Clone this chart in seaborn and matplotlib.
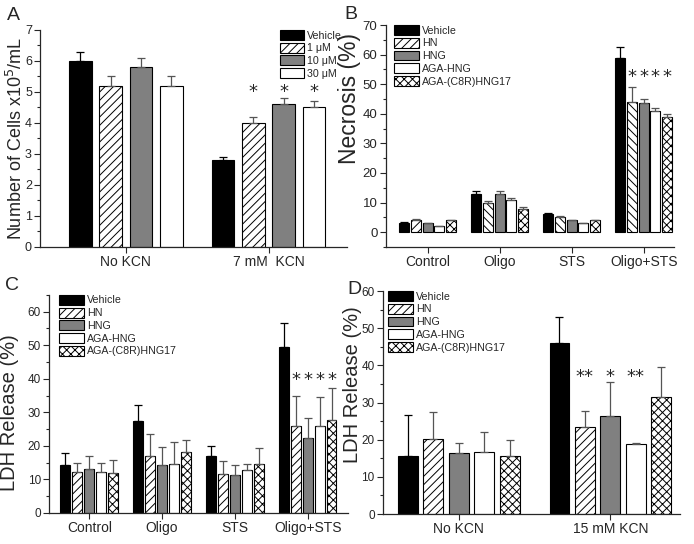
import matplotlib
matplotlib.use("Agg")
import matplotlib.pyplot as plt
from matplotlib.patches import Patch
from matplotlib.container import BarContainer
from matplotlib.ticker import MultipleLocator
import seaborn as sns
import pandas as pd

# panel A
a_groups = ["No KCN", "7 mM  KCN"]
a_series = ["Vehicle", "1 \u03bcM", "10 \u03bcM", "30 \u03bcM"]
a_vals = [[6.0, 2.8], [5.2, 4.0], [5.8, 4.6], [5.2, 4.5]]
a_errs = [[0.3, 0.1], [0.3, 0.2], [0.3, 0.2], [0.3, 0.2]]
a_stars = [["", ""], ["", "*"], ["", "*"], ["", "*"]]

# panels B, C, D share treatments
treat = ["Vehicle", "HN", "HNG", "AGA-HNG", "AGA-(C8R)HNG17"]
bcd_groups = ["Control", "Oligo", "STS", "Oligo+STS"]

b_vals = [[3, 13, 6, 59], [4, 10, 5, 44], [3, 13, 4, 43.5], [2, 11, 3, 41], [4, 8, 4, 39]]
b_errs = [[0.3, 0.8, 0.4, 3.5], [0.3, 0.6, 0.3, 5], [0.2, 0.8, 0.2, 1.5], [0.1, 0.7, 0.1, 1], [0.2, 0.5, 0.2, 1]]
b_stars = [["", "", "", ""], ["", "", "", "*"], ["", "", "", "*"], ["", "", "", "*"], ["", "", "", "*"]]

c_vals = [[14.2, 27.4, 17.0, 49.4], [12.3, 17.0, 11.7, 26.0], [13.0, 14.3, 11.2, 22.4],
          [12.2, 14.6, 12.8, 26.0], [12.0, 18.2, 14.5, 27.6]]
c_errs = [[3.7, 4.8, 3.1, 7.3], [2.7, 6.6, 3.8, 9.0], [4.0, 5.4, 3.0, 6.0],
          [2.7, 6.5, 1.9, 8.5], [3.7, 3.5, 4.9, 9.7]]
c_stars = b_stars

d_groups = ["No KCN", "15 mM KCN"]
d_vals = [[15.6, 45.9], [20.1, 23.3], [16.3, 26.4], [16.8, 18.9], [15.5, 31.6]]
d_errs = [[11.0, 7.1], [7.3, 4.3], [2.8, 9.0], [5.3, 0.2], [4.3, 7.9]]
d_stars = [["", ""], ["", "**"], ["", "*"], ["", "**"], ["", ""]]

colors = ["black", "white", "#808080", "white", "white"]
hatches = [None, "////", None, None, "xxxx"]

sns.set_style("ticks")
plt.rcParams["font.family"] = ["Liberation Sans", "DejaVu Sans"]
plt.rcParams["hatch.linewidth"] = 0.7
plt.rcParams["xtick.major.size"] = 4
plt.rcParams["ytick.major.size"] = 4
plt.rcParams["ytick.minor.size"] = 2


def panel(ax, groups, series, vals, errs, stars, width, gap, ylim, major, minor,
          ylabel, ylabel_size, ylabel_pos, ytick_size, star_y, legend_anchor,
          hatch_override=None):
    rows = []
    for s, v_list in zip(series, vals):
        for g, v in zip(groups, v_list):
            rows.append({"group": g, "series": s, "value": v})
    df = pd.DataFrame(rows)
    pal = dict(zip(series, colors))
    sns.barplot(data=df, x="group", y="value", hue="series", palette=pal,
                width=width, gap=gap, edgecolor="black", linewidth=0.8,
                errorbar=None, legend=False, ax=ax)
    bars = [c for c in ax.containers if isinstance(c, BarContainer)]
    for i, cont in enumerate(bars):
        for j, bar in enumerate(cont.patches):
            h = hatches[i]
            if hatch_override is not None and (i, j) in hatch_override:
                h = hatch_override[(i, j)]
            bar.set_hatch(h)
            bar.set_facecolor(colors[i])
            x = bar.get_x() + bar.get_width() / 2
            top = bar.get_height()
            ax.errorbar(x, top, yerr=[[0], [errs[i][j]]], fmt="none",
                        ecolor="black" if i == 0 else "#555555",
                        elinewidth=0.9, capsize=3.2, capthick=0.9)
            if stars[i][j]:
                ax.text(x, star_y, stars[i][j], ha="center", va="center",
                        fontsize=13, family="DejaVu Sans")
    ax.set_ylim(*ylim)
    ax.yaxis.set_major_locator(MultipleLocator(major))
    ax.yaxis.set_minor_locator(MultipleLocator(minor))
    ax.set_xlabel("")
    ax.set_ylabel(ylabel, fontsize=ylabel_size)
    ax.yaxis.set_label_coords(*ylabel_pos)
    ax.tick_params(axis="both", width=0.8, pad=2)
    ax.tick_params(axis="y", labelsize=ytick_size)
    ax.tick_params(axis="x", labelsize=10)
    ax.tick_params(axis="y", which="minor", width=0.8)
    for sp in ["left", "bottom"]:
        ax.spines[sp].set_linewidth(0.9)
    sns.despine(ax=ax)
    handles = [Patch(facecolor=colors[i], edgecolor="black", hatch=hatches[i],
                     linewidth=0.8, label=s) for i, s in enumerate(series)]
    ax.legend(handles=handles, loc="upper left", bbox_to_anchor=legend_anchor,
              frameon=False, fontsize=7.7, handlelength=2.3, handleheight=1.05,
              labelspacing=0.2, handletextpad=0.3, borderaxespad=0, borderpad=0)


fig = plt.figure(figsize=(6.94, 5.44), dpi=100)
axA = fig.add_axes([0.058, 0.546, 0.442, 0.399])
axB = fig.add_axes([0.556, 0.546, 0.415, 0.408])
axC = fig.add_axes([0.071, 0.057, 0.43, 0.401])
axD = fig.add_axes([0.552, 0.055, 0.428, 0.41])

panel(axA, a_groups, a_series, a_vals, a_errs, a_stars, 0.85, 0.25, (0, 7), 1, 0.5,
      "Number of Cells x10$^5$/mL", 13, (-0.046, 0.5), 9, 5.0, (0.78, 1.0))
axA.set_xlim(-0.6, 1.55)

b_hatch = {(1, 1): "\\\\\\\\", (1, 2): "\\\\\\\\", (1, 3): "\\\\\\\\"}
panel(axB, bcd_groups, treat, b_vals, b_errs, b_stars, 0.81, 0.14, (-5, 70), 10, 5,
      "Necrosis (%)", 16.5, (-0.085, 0.67), 9.5, 52.5, (0.028, 1.0), hatch_override=b_hatch)
axB.set_xlim(-0.58, 3.42)

panel(axC, bcd_groups, treat, c_vals, c_errs, c_stars, 0.82, 0.17, (0, 65), 10, 5,
      "LDH Release (%)", 14.5, (-0.1, 0.46), 8.5, 39.5, (0.034, 1.0))
axC.set_xlim(-0.55, 3.55)

panel(axD, d_groups, treat, d_vals, d_errs, d_stars, 0.84, 0.22, (0, 60), 10, 5,
      "LDH Release (%)", 14.5, (-0.071, 0.58), 8.5, 37.0, (0.017, 1.0))
axD.set_xlim(-0.5, 1.46)

fig.text(0.019, 0.972, "A", fontsize=14, ha="center", va="center")
fig.text(0.506, 0.974, "B", fontsize=14, ha="center", va="center")
fig.text(0.017, 0.476, "C", fontsize=14, ha="center", va="center")
fig.text(0.511, 0.468, "D", fontsize=14, ha="center", va="center")

fig.savefig("out.png", dpi=100)
